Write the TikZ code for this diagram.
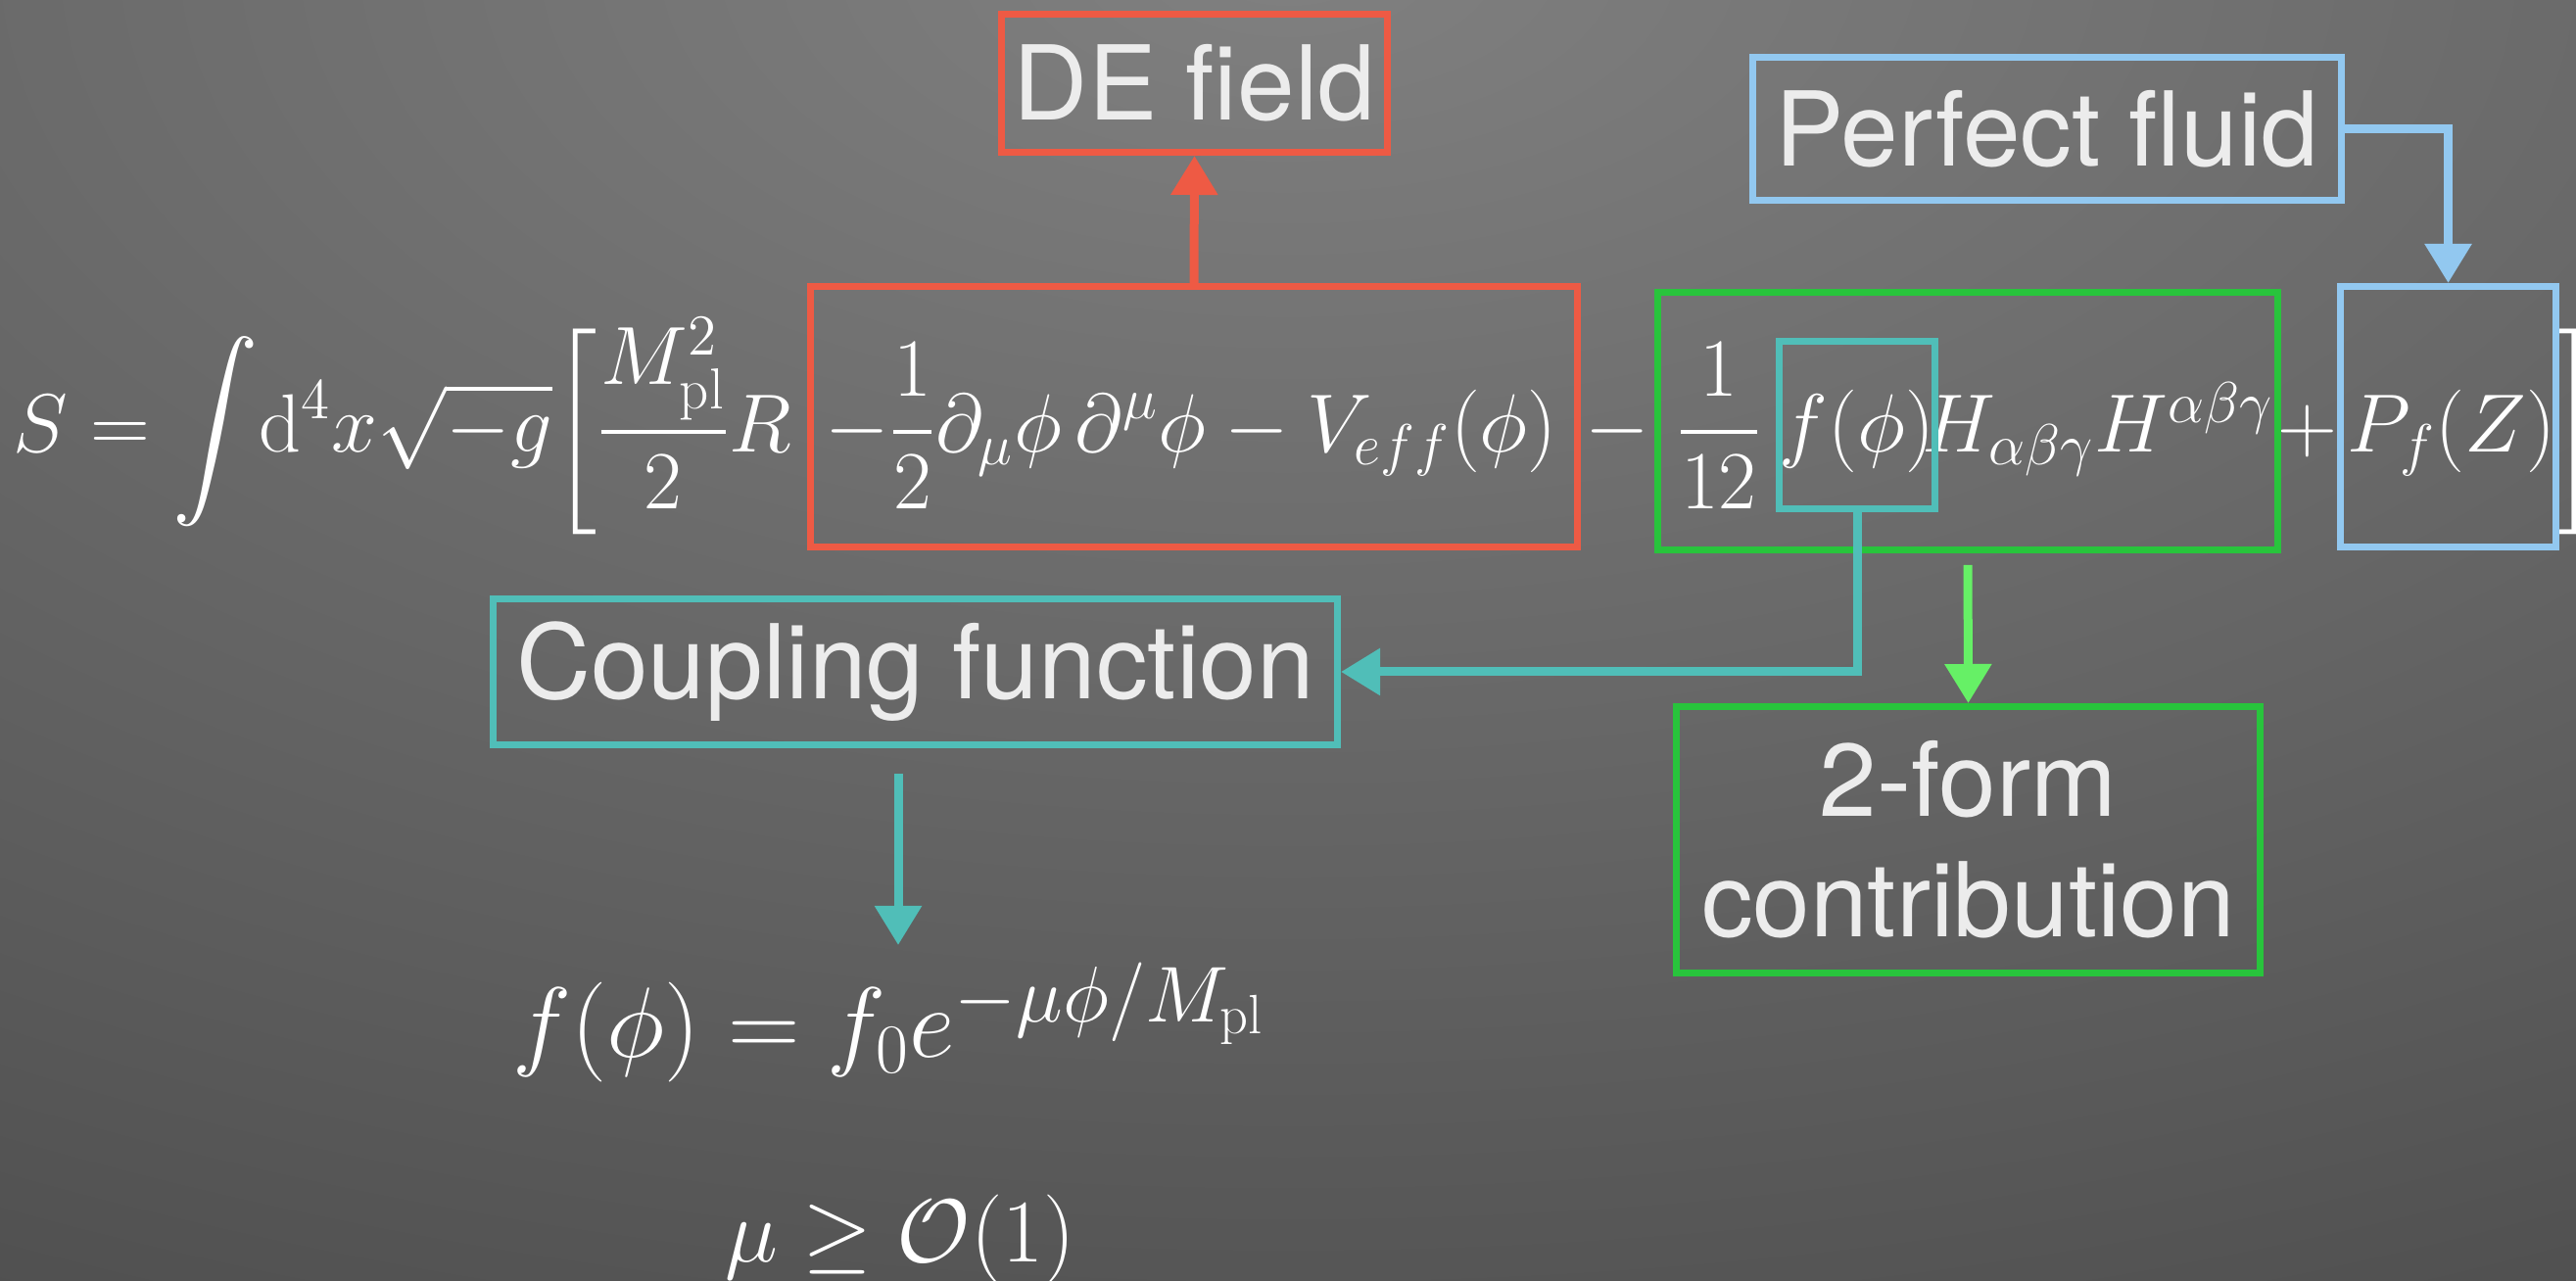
\RequirePackage{fix-cm}
\documentclass[tikz,border=0pt]{standalone}
\usepackage{exscale}
\usepackage{fontspec}
\newfontfamily\tagfont{TeX Gyre Heros}
\usepackage{xcolor}
\usetikzlibrary{arrows.meta}
\definecolor{deRed}{RGB}{238,90,68}
\definecolor{formGreen}{RGB}{40,196,60}
\definecolor{arrowGreen}{RGB}{102,240,102}
\definecolor{coupTeal}{RGB}{80,190,184}
\definecolor{fluidBlue}{RGB}{146,200,240}
\definecolor{tagGray}{RGB}{236,236,236}
\definecolor{bgLight}{RGB}{128,128,128}
\definecolor{bgDark}{RGB}{43,43,43}
\tikzset{
    tagbox/.style={draw, line width=0.07cm, text=tagGray, inner sep=0pt, align=center,
        font=\tagfont\fontsize{30}{35}\selectfont},
    eqbox/.style={draw, line width=0.07cm, inner sep=0pt},
    eqtext/.style={text=white, inner sep=0pt, anchor=base, font=\fontsize{24}{28}\selectfont},
    link/.style={line width=0.09cm, -{Triangle[length=0.4cm,width=0.46cm]}}
}

\begin{document}
\begin{tikzpicture}
    \useasboundingbox (0,0) rectangle (26.3,13.08);
    \begin{scope}
        \clip (0,0) rectangle (26.3,13.08);
        \shade[inner color=bgLight, outer color=bgDark] (13.15,13.5) ellipse [x radius=52cm, y radius=27cm];
    \end{scope}

    \node[eqtext, anchor=base west] (lhs) at (0.13,8.46) {$\displaystyle S = \int\!\mathrm{d}^4x\sqrt{-g}\biggl[\frac{M_{\mathrm{pl}}^2}{2}R$};
    \node[eqtext] (kinexpr) at (12.16,8.46) {$\displaystyle -\frac{1}{2}\partial_\mu\phi\,\partial^\mu\phi - V_{eff}(\phi)$};
    \node[eqtext] (minus) at (16.51,8.46) {$-$};
    \node[eqtext] (twelfth) at (17.55,8.46) {$\displaystyle\frac{1}{12}$};
    \node[eqtext] (fphi) at (18.96,8.46) {$f(\phi)$};
    \node[eqtext] (hh) at (21.42,8.46) {$H_{\alpha\beta\gamma}H^{\alpha\beta\gamma}$};
    \node[eqtext] (plus) at (23.56,8.46) {$+$};
    \node[eqtext] (pfz) at (25.03,8.46) {$P_f(Z)$};
    \node[eqtext, anchor=base west] (rbrack) at (26.06,8.46) {$\biggr]$};

    \node[eqbox, draw=deRed, minimum width=7.83cm, minimum height=2.66cm] (kinetic) at (12.19,8.825) {};
    \node[eqbox, draw=formGreen, minimum width=6.33cm, minimum height=2.63cm] (hterm) at (20.09,8.78) {};
    \node[eqbox, draw=coupTeal, minimum width=1.59cm, minimum height=1.71cm] (fcoup) at (18.96,8.74) {};
    \node[eqbox, draw=fluidBlue, minimum width=2.20cm, minimum height=2.66cm] (pfluid) at (24.995,8.825) {};

    \node[tagbox, draw=deRed, minimum width=3.94cm, minimum height=1.41cm] (defield) at (12.195,12.23) {DE field};
    \node[tagbox, draw=fluidBlue, minimum width=6.01cm, minimum height=1.46cm] (fluid) at (20.90,11.765) {Perfect fluid};
    \node[tagbox, draw=coupTeal, minimum width=8.62cm, minimum height=1.49cm] (coupling) at (9.345,6.22) {Coupling function};
    \node[tagbox, draw=formGreen, minimum width=5.96cm, minimum height=2.72cm] (twoform) at (20.095,4.505) {2-form\\contribution};

    \node[eqtext, font=\fontsize{29}{34}\selectfont] (fexp) at (9.08,2.28) {$f(\phi) = f_0 e^{\mbox{\fontsize{23}{28}\selectfont$-\mu\phi/M_{\mathrm{pl}}$}}$};
    \node[eqtext, font=\fontsize{26}{31}\selectfont] (muconstr) at (9.19,0.19) {$\mu \geq \mathcal{O}(1)$};
    \coordinate (fhead) at (9.17,3.43);

    \draw[link, deRed] (kinetic.north) -- (defield.south);
    \draw[link, fluidBlue] (fluid.east) -| (pfluid.north);
    \draw[link, coupTeal] (fcoup.south) |- (coupling.east);
    \draw[link, arrowGreen, shorten <=0.12cm] (hterm.south) -- (twoform.north);
    \draw[link, coupTeal, shorten <=0.26cm] (coupling.south -| fhead) -- (fhead);
\end{tikzpicture}
\end{document}
